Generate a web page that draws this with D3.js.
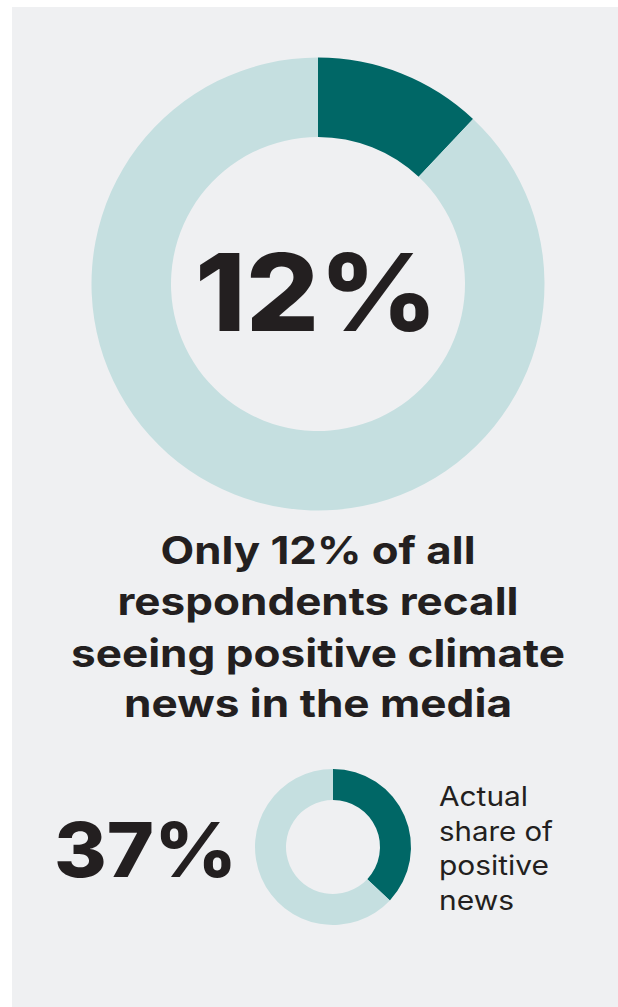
<!DOCTYPE html>
<html>
<head>
<meta charset="utf-8">
<script src="https://cdn.jsdelivr.net/npm/d3@7"></script>
<style>
  html, body { margin: 0; padding: 0; background: #ffffff; }
  svg { display: block; }
  text { font-family: Inter, "Noto Sans", sans-serif; fill: #231f20; }
</style>
</head>
<body>
<svg id="chart" width="618" height="1007"></svg>
<script>
// ---- data ----
const recallCategories = ["Recall positive news", "Other"];
const recallValues = [12, 88];
const actualCategories = ["Positive news", "Other news"];
const actualValues = [37, 63];
const headlineLines = ["Only 12% of all", "respondents recall", "seeing positive climate", "news in the media"];
const labelLines = ["Actual", "share of", "positive", "news"];

// ---- styles ----
const COLORS = ["#006766", "#c5dfe0"];
const W = 618, H = 1007;

const svg = d3.select("#chart");

// panel
svg.append("rect").attr("x", 12).attr("y", 7).attr("width", W - 12).attr("height", H - 7).attr("fill", "#eff0f2");

const pie = d3.pie().sort(null).value(d => d);
const color = d3.scaleOrdinal().domain([0, 1]).range(COLORS);

// big donut
const bigArc = d3.arc().innerRadius(147).outerRadius(226.5);
const big = svg.append("g").attr("transform", "translate(318,284)");
big.selectAll("path").data(pie(recallValues)).join("path")
  .attr("d", bigArc)
  .attr("fill", (d, i) => color(i));

big.append("text")
  .attr("x", -1.5).attr("y", 47)
  .attr("text-anchor", "middle")
  .attr("font-size", 107).attr("font-weight", 800)
  .attr("textLength", 243).attr("lengthAdjust", "spacingAndGlyphs")
  .text(recallValues[0] + "%");

// headline
const headWidths = [315, 401, 494, 388];
const headBaselines = [564, 615, 667, 717];
svg.append("g").selectAll("text").data(headlineLines).join("text")
  .attr("x", 318).attr("y", (d, i) => headBaselines[i])
  .attr("text-anchor", "middle")
  .attr("font-size", 38).attr("font-weight", 700)
  .attr("textLength", (d, i) => headWidths[i]).attr("lengthAdjust", "spacingAndGlyphs")
  .text(d => d);

// small donut
const smallArc = d3.arc().innerRadius(47).outerRadius(78);
const small = svg.append("g").attr("transform", "translate(333,847)");
small.selectAll("path").data(pie(actualValues)).join("path")
  .attr("d", smallArc)
  .attr("fill", (d, i) => color(i));

svg.append("text")
  .attr("x", 54).attr("y", 877)
  .attr("font-size", 76).attr("font-weight", 800)
  .attr("textLength", 183).attr("lengthAdjust", "spacingAndGlyphs")
  .text(actualValues[0] + "%");

const labelWidths = [89, 114, 110, 75];
svg.append("g").selectAll("text").data(labelLines).join("text")
  .attr("x", 439).attr("y", (d, i) => 806 + i * 34.5)
  .attr("font-size", 27).attr("font-weight", 400)
  .attr("textLength", (d, i) => labelWidths[i]).attr("lengthAdjust", "spacingAndGlyphs")
  .text(d => d);
</script>
</body>
</html>
